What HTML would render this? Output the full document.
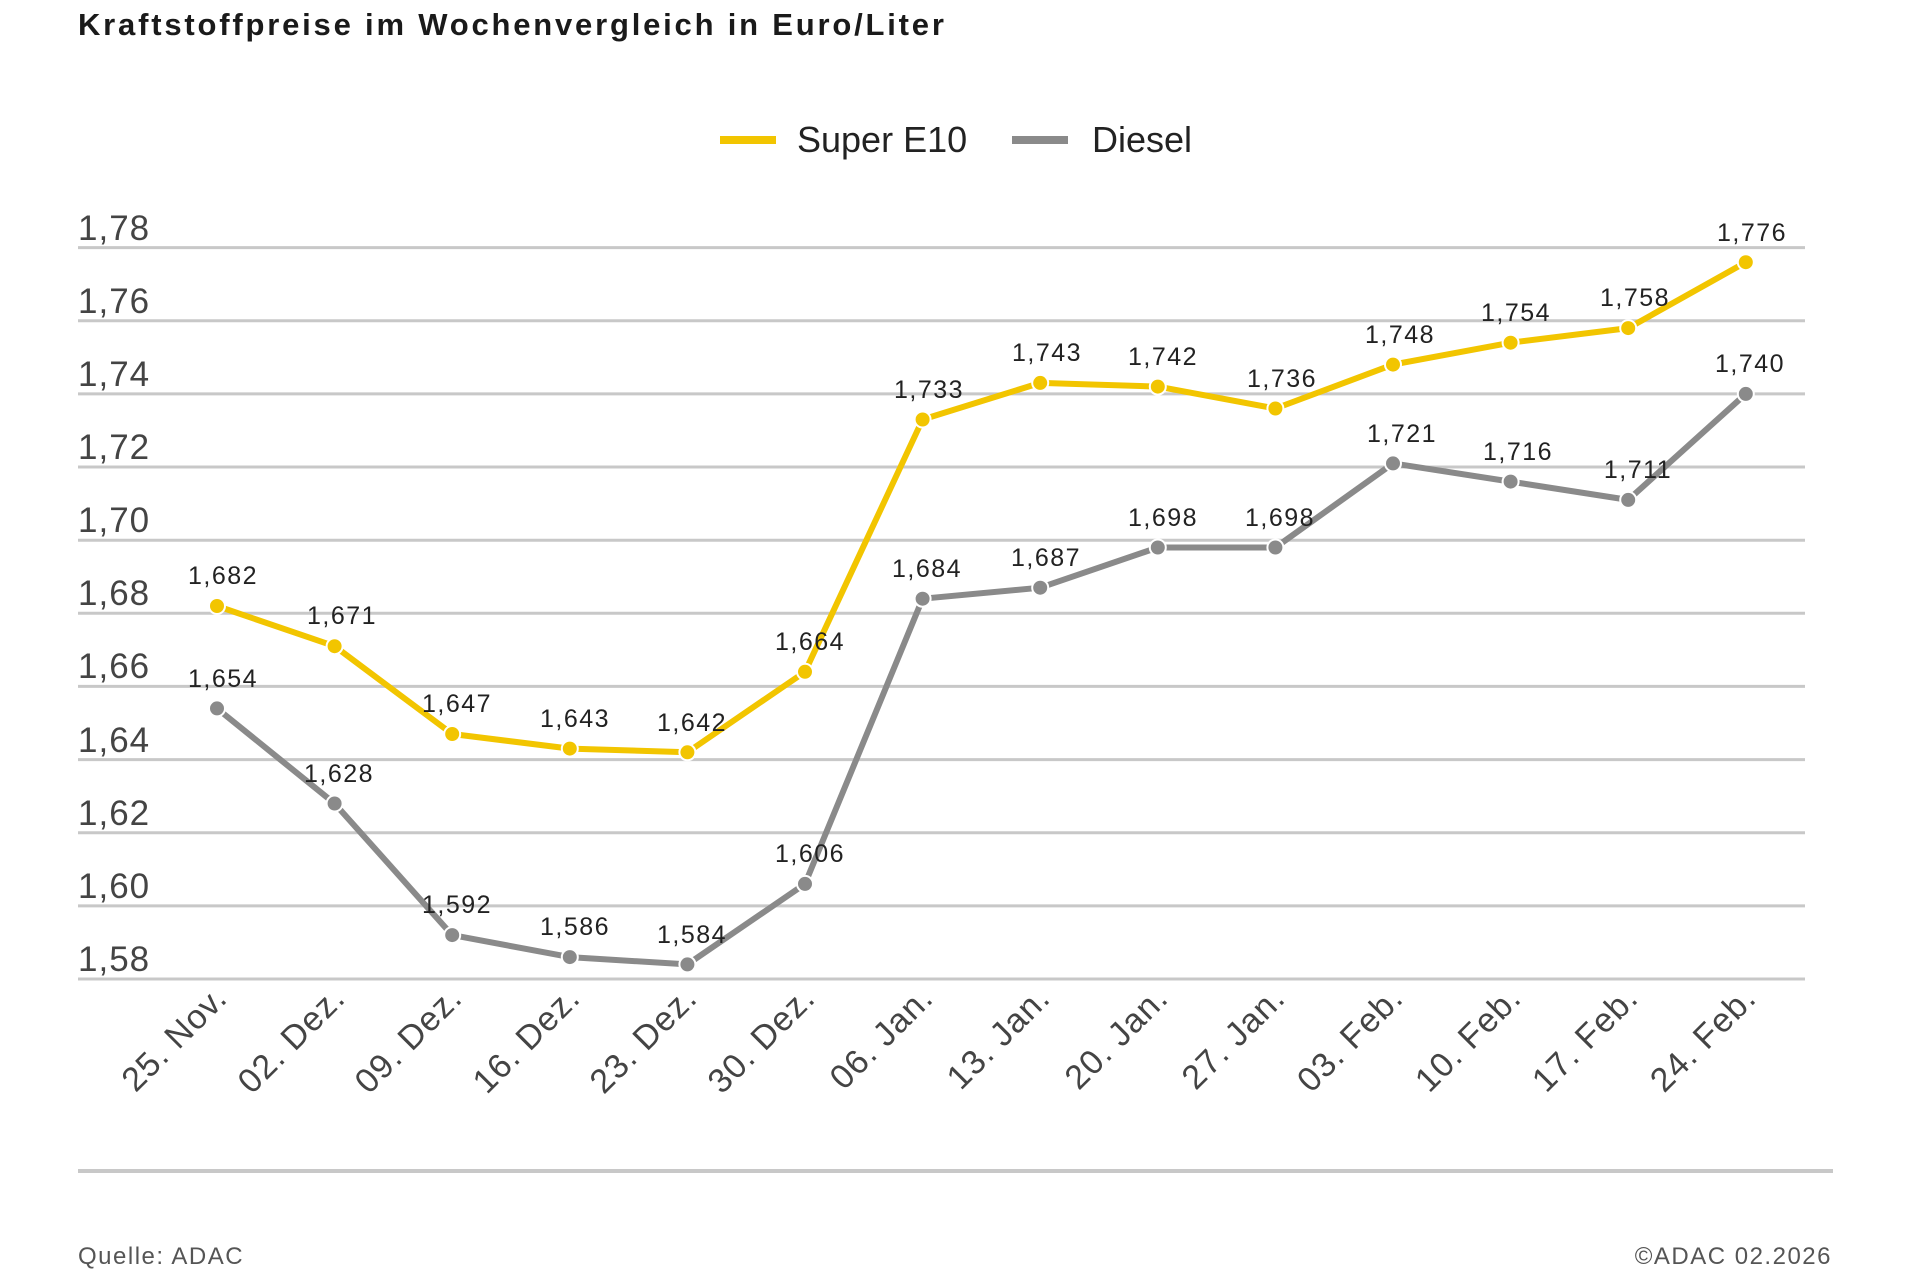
<!DOCTYPE html>
<html><head><meta charset="utf-8"><style>
html,body{margin:0;padding:0;background:#fff;}
svg{display:block;font-family:"Liberation Sans",sans-serif;}
</style></head><body>
<svg width="1911" height="1280" viewBox="0 0 1911 1280" xmlns="http://www.w3.org/2000/svg">
<text x="78" y="35" font-size="31" font-weight="bold" fill="#1a1a1a" letter-spacing="2.8">Kraftstoffpreise im Wochenvergleich in Euro/Liter</text>
<line x1="720" y1="140" x2="776" y2="140" stroke="#f2c500" stroke-width="8"/>
<text x="797" y="152" font-size="36" fill="#222">Super E10</text>
<line x1="1012" y1="140" x2="1068" y2="140" stroke="#8a8a8a" stroke-width="8"/>
<text x="1092" y="152" font-size="36" fill="#222">Diesel</text>
<g stroke="#c8c8c8" stroke-width="3">
<line x1="78" y1="247.6" x2="1805" y2="247.6"/><line x1="78" y1="320.7" x2="1805" y2="320.7"/>
<line x1="78" y1="393.9" x2="1805" y2="393.9"/><line x1="78" y1="467" x2="1805" y2="467"/>
<line x1="78" y1="540.2" x2="1805" y2="540.2"/><line x1="78" y1="613.3" x2="1805" y2="613.3"/>
<line x1="78" y1="686.4" x2="1805" y2="686.4"/><line x1="78" y1="759.6" x2="1805" y2="759.6"/>
<line x1="78" y1="832.7" x2="1805" y2="832.7"/><line x1="78" y1="905.9" x2="1805" y2="905.9"/>
<line x1="78" y1="979" x2="1805" y2="979"/>
</g>
<g font-size="35" fill="#444" letter-spacing="1">
<text x="78" y="240">1,78</text><text x="78" y="313">1,76</text><text x="78" y="386">1,74</text>
<text x="78" y="459">1,72</text><text x="78" y="532">1,70</text><text x="78" y="605">1,68</text>
<text x="78" y="678">1,66</text><text x="78" y="752">1,64</text><text x="78" y="825">1,62</text>
<text x="78" y="898">1,60</text><text x="78" y="971">1,58</text>
</g>
<line x1="78" y1="1171" x2="1833" y2="1171" stroke="#c8c8c8" stroke-width="4"/>
<polyline fill="none" stroke="#8a8a8a" stroke-width="6" stroke-linejoin="round" points="217,708.4 334.6,803.5 452.2,935.1 569.8,957.1 687.4,964.4 805,883.9 922.6,598.7 1040.2,587.7 1157.8,547.5 1275.4,547.5 1393,463.4 1510.6,481.6 1628.2,499.9 1745.8,393.9"/>
<g fill="#8a8a8a" stroke="#fff" stroke-width="2">
<circle cx="217" cy="708.4" r="8"/><circle cx="334.6" cy="803.5" r="8"/><circle cx="452.2" cy="935.1" r="8"/><circle cx="569.8" cy="957.1" r="8"/><circle cx="687.4" cy="964.4" r="8"/><circle cx="805" cy="883.9" r="8"/><circle cx="922.6" cy="598.7" r="8"/><circle cx="1040.2" cy="587.7" r="8"/><circle cx="1157.8" cy="547.5" r="8"/><circle cx="1275.4" cy="547.5" r="8"/><circle cx="1393" cy="463.4" r="8"/><circle cx="1510.6" cy="481.6" r="8"/><circle cx="1628.2" cy="499.9" r="8"/><circle cx="1745.8" cy="393.9" r="8"/>
</g>
<polyline fill="none" stroke="#f2c500" stroke-width="6" stroke-linejoin="round" points="217,606 334.6,646.2 452.2,734 569.8,748.6 687.4,752.3 805,671.8 922.6,419.5 1040.2,382.9 1157.8,386.6 1275.4,408.5 1393,364.6 1510.6,342.7 1628.2,328.1 1745.8,262.2"/>
<g fill="#f2c500" stroke="#fff" stroke-width="2">
<circle cx="217" cy="606" r="8"/><circle cx="334.6" cy="646.2" r="8"/><circle cx="452.2" cy="734" r="8"/><circle cx="569.8" cy="748.6" r="8"/><circle cx="687.4" cy="752.3" r="8"/><circle cx="805" cy="671.8" r="8"/><circle cx="922.6" cy="419.5" r="8"/><circle cx="1040.2" cy="382.9" r="8"/><circle cx="1157.8" cy="386.6" r="8"/><circle cx="1275.4" cy="408.5" r="8"/><circle cx="1393" cy="364.6" r="8"/><circle cx="1510.6" cy="342.7" r="8"/><circle cx="1628.2" cy="328.1" r="8"/><circle cx="1745.8" cy="262.2" r="8"/>
</g>
<g font-size="25" fill="#222" text-anchor="middle" letter-spacing="1.5">
<text x="223" y="584">1,682</text><text x="342" y="624">1,671</text><text x="457" y="712">1,647</text><text x="575" y="727">1,643</text><text x="692" y="731">1,642</text><text x="810" y="650">1,664</text><text x="929" y="398">1,733</text><text x="1047" y="361">1,743</text><text x="1163" y="365">1,742</text><text x="1282" y="387">1,736</text><text x="1400" y="343">1,748</text><text x="1516" y="321">1,754</text><text x="1635" y="306">1,758</text><text x="1752" y="241">1,776</text>
<text x="223" y="687">1,654</text><text x="339" y="782">1,628</text><text x="457" y="913">1,592</text><text x="575" y="935">1,586</text><text x="692" y="943">1,584</text><text x="810" y="862">1,606</text><text x="927" y="577">1,684</text><text x="1046" y="566">1,687</text><text x="1163" y="526">1,698</text><text x="1280" y="526">1,698</text><text x="1402" y="442">1,721</text><text x="1518" y="460">1,716</text><text x="1638" y="478">1,711</text><text x="1750" y="372">1,740</text>
</g>
<g font-size="34" fill="#444" text-anchor="end" letter-spacing="1">
<text transform="translate(229,1000) rotate(-45)">25. Nov.</text>
<text transform="translate(347,1000) rotate(-45)">02. Dez.</text>
<text transform="translate(464,1000) rotate(-45)">09. Dez.</text>
<text transform="translate(582,1000) rotate(-45)">16. Dez.</text>
<text transform="translate(699,1000) rotate(-45)">23. Dez.</text>
<text transform="translate(817,1000) rotate(-45)">30. Dez.</text>
<text transform="translate(935,1000) rotate(-45)">06. Jan.</text>
<text transform="translate(1052,1000) rotate(-45)">13. Jan.</text>
<text transform="translate(1170,1000) rotate(-45)">20. Jan.</text>
<text transform="translate(1287,1000) rotate(-45)">27. Jan.</text>
<text transform="translate(1405,1000) rotate(-45)">03. Feb.</text>
<text transform="translate(1523,1000) rotate(-45)">10. Feb.</text>
<text transform="translate(1640,1000) rotate(-45)">17. Feb.</text>
<text transform="translate(1758,1000) rotate(-45)">24. Feb.</text>
</g>
<text x="78" y="1264" font-size="24" fill="#555" letter-spacing="1.5">Quelle: ADAC</text>
<text x="1832" y="1264" font-size="24" fill="#555" text-anchor="end" letter-spacing="1.5">©ADAC 02.2026</text>
</svg>
</body></html>
